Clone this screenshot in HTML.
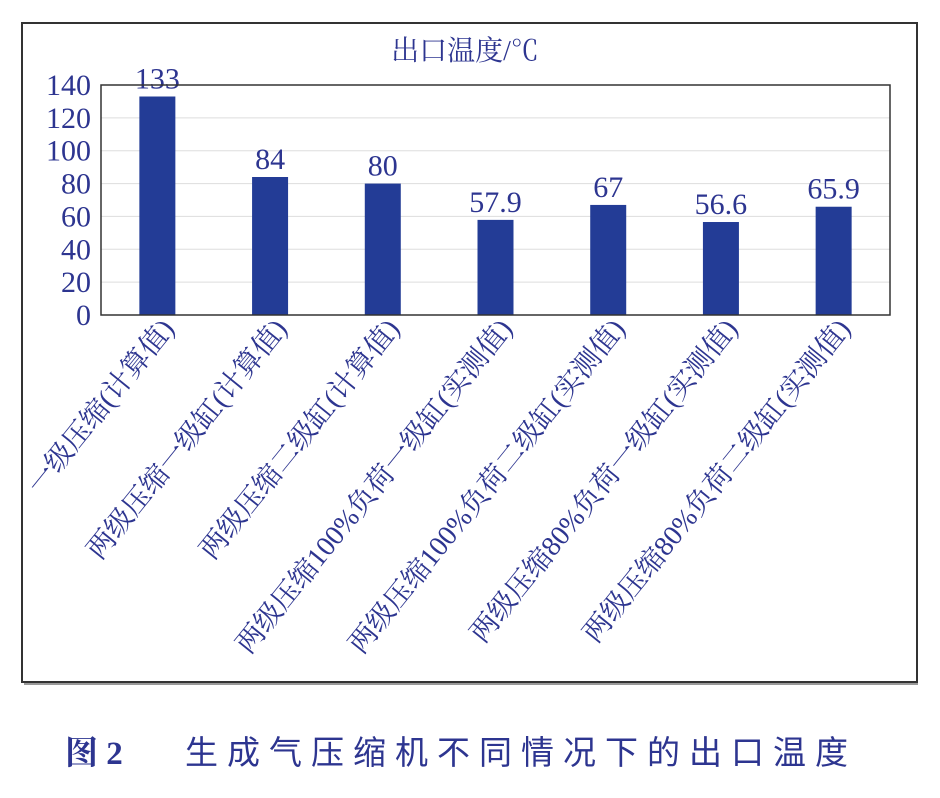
<!DOCTYPE html>
<html><head><meta charset="utf-8"><style>
body{margin:0;background:#fff;width:940px;height:793px;overflow:hidden;font-family:"Liberation Serif","Noto Serif CJK SC",serif;}
</style></head><body>
<svg width="940" height="793" xmlns="http://www.w3.org/2000/svg">
<rect x="22" y="23" width="895" height="659" fill="#fff" stroke="#333" stroke-width="2"/>
<line x1="24" y1="684" x2="918" y2="684" stroke="#999" stroke-width="2"/>
<text x="465" y="60" text-anchor="middle" font-size="28" fill="#2d3590">出口温度/℃</text>
<g id="grid"></g>
<g id="bars"></g>
<g id="yt"></g>
<g id="xl"></g>
<rect x="101" y="85" width="789" height="230" fill="none" stroke="#333" stroke-width="1.5"/>
<text x="65" y="764" font-size="33" font-weight="bold" fill="#2d3590" font-family="'Liberation Serif','Noto Serif CJK SC',serif">图 2</text>
<text x="185" y="764" font-size="33" fill="#2d3590" letter-spacing="9" font-family="'Liberation Sans','Noto Sans CJK SC',sans-serif">生成气压缩机不同情况下的出口温度</text>
</svg>
<script>
const categories=["一级压缩(计算值)","两级压缩一级缸(计算值)","两级压缩二级缸(计算值)","两级压缩100%负荷一级缸(实测值)","两级压缩100%负荷二级缸(实测值)","两级压缩80%负荷一级缸(实测值)","两级压缩80%负荷二级缸(实测值)"];
const values=[133,84,80,57.9,67,56.6,65.9];
const valueLabels=["133","84","80","57.9","67","56.6","65.9"];
const yTicks=[0,20,40,60,80,100,120,140];
const NS="http://www.w3.org/2000/svg";
const L=101,R=890,T=85,B=315,yMax=140;
const y=v=>B-(v/yMax)*(B-T);
const band=(R-L)/categories.length;
const xc=i=>L+band*(i+0.5);
function mk(tag,attrs,parent){const e=document.createElementNS(NS,tag);for(const k in attrs)e.setAttribute(k,attrs[k]);parent.appendChild(e);return e;}
const grid=document.getElementById('grid'),bars=document.getElementById('bars'),yt=document.getElementById('yt'),xl=document.getElementById('xl');
yTicks.forEach(t=>{
 if(t>0&&t<yMax){const g=mk('line',{x1:L,x2:R,y1:y(t),y2:y(t),stroke:'#ddd','stroke-width':1},grid);
 
 }
 const tx=mk('text',{x:91,y:y(t)+10,'text-anchor':'end','font-size':30,fill:'#2d3590'},yt);
 tx.textContent=t;
 
 
});
values.forEach((v,i)=>{
 const r=mk('rect',{x:xc(i)-18,y:y(v),width:36,height:B-y(v),fill:'#233c96'},bars);
 
 
 const lb=mk('text',{x:xc(i),y:y(v)-8,'text-anchor':'middle','font-size':30,fill:'#2d3590'},bars);
 lb.textContent=valueLabels[i];
 
 
 const cx=xc(i)+18,cy=B+14;
 const c=mk('text',{x:cx,y:cy,'text-anchor':'end','font-size':28,fill:'#2d3590',transform:`rotate(-51 ${cx} ${cy})`},xl);
 c.textContent=categories[i];
 
 
});
</script>
</body></html>
